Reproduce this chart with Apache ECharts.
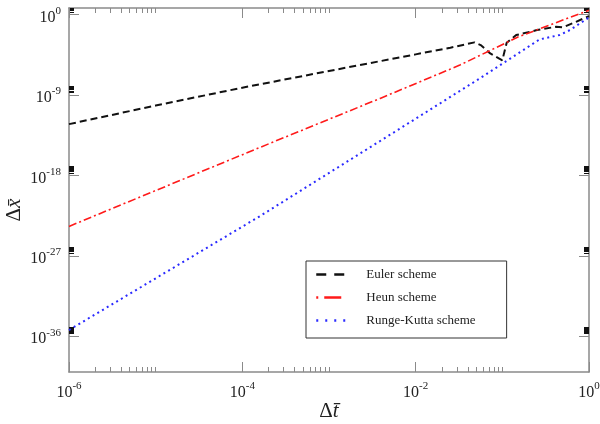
<!DOCTYPE html>
<html>
<head>
<meta charset="utf-8">
<script src="https://cdn.jsdelivr.net/npm/echarts@6/dist/echarts.min.js"></script>
<style>
html, body { margin: 0; padding: 0; background: #fff; }
#chart { width: 600px; height: 424px; }
</style>
</head>
<body>
<div id="chart"></div>
<script>
// all values are log10 of the quantity
const eulerT = [-6, -5, -4, -3, -2, -1.6, -1.32, -1.25, -1.14, -1.0, -0.95, -0.84, -0.6, -0.38, -0.3, -0.15, 0];
const eulerX = [-12.25, -10.17, -8.17, -6.3, -4.44, -3.7, -3.1, -3.4, -4.33, -5.1, -3.15, -2.28, -1.72, -1.35, -1.42, -0.8, -0.15];

const heunT = [-6, -3.8, -2.41, -1.49, -0.82, 0];
const heunX = [-23.7, -14.87, -9.37, -5.64, -2.5, 0.5];

const rkT = [-6, -3.8, -2.18, -1.26, -0.82, -0.57, -0.34, -0.22, 0];
const rkX = [-35.3, -22.57, -12.74, -7.13, -4.35, -2.76, -2.28, -1.72, -0.3];

const names = ["Euler scheme", "Heun scheme", "Runge-Kutta scheme"];

// tick exponents
const xMajor = [-6, -4, -2, 0];
const yMajor = [-36, -27, -18, -9, 0];
const minorSteps = [2, 3, 4, 5, 6, 7, 8, 9, 10];

const X_MIN = -6, X_MAX = 0, Y_MIN = -40, Y_MAX = 0.75;

function minorOf(majors, max) {
  let out = [];
  majors.forEach(m => minorSteps.forEach(k => {
    let v = m + Math.log10(k);
    if (v <= max) out.push(v);
  }));
  return out;
}

function pairs(t, x) {
  return t.map((v, i) => [v, x[i]]);
}

const serif = "Liberation Serif";
const axisGray = "#8a8a8a";

const powLabel = {
  fontFamily: serif,
  color: "#222",
  rich: {
    b: { fontFamily: serif, fontSize: 16, lineHeight: 24, color: "#222" },
    s: { fontFamily: serif, fontSize: 11, lineHeight: 11, verticalAlign: "top", color: "#222" }
  }
};

function makeAxis(pos, min, max, ticks, len, opts) {
  return {
    type: "value",
    position: pos,
    min: min,
    max: max,
    splitLine: { show: false },
    axisLine: { show: opts.line, onZero: false, lineStyle: { color: axisGray, width: 1.5 } },
    axisTick: { show: true, inside: true, length: len, customValues: ticks,
      lineStyle: { color: opts.tickColor || axisGray, width: 1 } },
    axisLabel: opts.label ? Object.assign({
      show: true,
      customValues: opts.labelValues,
      margin: opts.margin,
      padding: opts.labelPad || 0,
      formatter: v => "{b|10}{s|" + Math.round(v) + "}"
    }, powLabel) : { show: false }
  };
}

const nameRich = {
  d: { fontFamily: serif, fontSize: 21, color: "#222" },
  v: { fontFamily: serif, fontSize: 21, fontStyle: "italic", color: "#222" }
};

const xAxes = [
  makeAxis("bottom", X_MIN, X_MAX, xMajor, 10, { line: true, label: true, labelValues: xMajor, margin: 9 }),
  makeAxis("top", X_MIN, X_MAX, xMajor, 10, { line: true, label: false }),
  makeAxis("bottom", X_MIN, X_MAX, minorOf(xMajor, X_MAX), 5, { line: false, label: false }),
  makeAxis("top", X_MIN, X_MAX, minorOf(xMajor, X_MAX), 5, { line: false, label: false })
];
xAxes[0].name = "{d|Δ}{v|t\u0304}";
xAxes[0].nameLocation = "middle";
xAxes[0].nameMoveOverlap = false;
xAxes[0].nameGap = 29;
xAxes[0].nameTextStyle = { rich: nameRich };

const yAxes = [
  makeAxis("left", Y_MIN, Y_MAX, yMajor, 10, { line: true, label: true, labelValues: yMajor, margin: 8, labelPad: [6, 0, 0, 0] }),
  makeAxis("right", Y_MIN, Y_MAX, yMajor, 10, { line: true, label: false }),
  makeAxis("left", Y_MIN, Y_MAX, minorOf(yMajor, Y_MAX), 5, { line: false, label: false, tickColor: "#111" }),
  makeAxis("right", Y_MIN, Y_MAX, minorOf(yMajor, Y_MAX), 5, { line: false, label: false, tickColor: "#111" })
];
yAxes[0].name = "{d|Δ}{v|x\u0304}";
yAxes[0].nameLocation = "middle";
yAxes[0].nameMoveOverlap = false;
yAxes[0].nameGap = 44;
yAxes[0].nameTextStyle = { padding: [0, 40, 0, 0], rich: nameRich };

let chart = echarts.init(document.getElementById("chart"), null, { renderer: "canvas" });

let option = {
  animation: false,
  backgroundColor: "#fff",
  grid: { left: 69, right: 11, top: 8, bottom: 52, containLabel: false, outerBoundsMode: "none" },
  xAxis: xAxes,
  yAxis: yAxes,
  legend: {
    orient: "vertical",
    left: 306,
    top: 261,
    itemWidth: 30,
    itemHeight: 14,
    itemGap: 10,
    padding: [7, 31, 11, 9],
    borderColor: "#333",
    borderWidth: 1,
    itemStyle: { opacity: 0 },
    textStyle: { fontFamily: serif, fontSize: 13, color: "#222", padding: [0, 0, 0, 15] },
    data: [
      { name: names[0], lineStyle: { type: [10, 8], width: 2.5 } },
      { name: names[1], lineStyle: { type: [2, 6, 17, 100], width: 2.5 } },
      { name: names[2], lineStyle: { type: [2, 7], width: 2.5 } }
    ]
  },
  series: [
    {
      name: names[0],
      type: "line",
      data: pairs(eulerT, eulerX),
      symbol: "none",
      color: "#111",
      lineStyle: { color: "#111", width: 2, type: [7, 4] }
    },
    {
      name: names[1],
      type: "line",
      data: pairs(heunT, heunX),
      symbol: "none",
      color: "#ff1a1a",
      lineStyle: { color: "#ff1a1a", width: 1.6, type: [8, 3, 2, 3] }
    },
    {
      name: names[2],
      type: "line",
      data: pairs(rkT, rkX),
      symbol: "none",
      color: "#2a2aff",
      lineStyle: { color: "#2a2aff", width: 2, type: [2, 3.5] }
    }
  ]
};

chart.setOption(option);
</script>
</body>
</html>
